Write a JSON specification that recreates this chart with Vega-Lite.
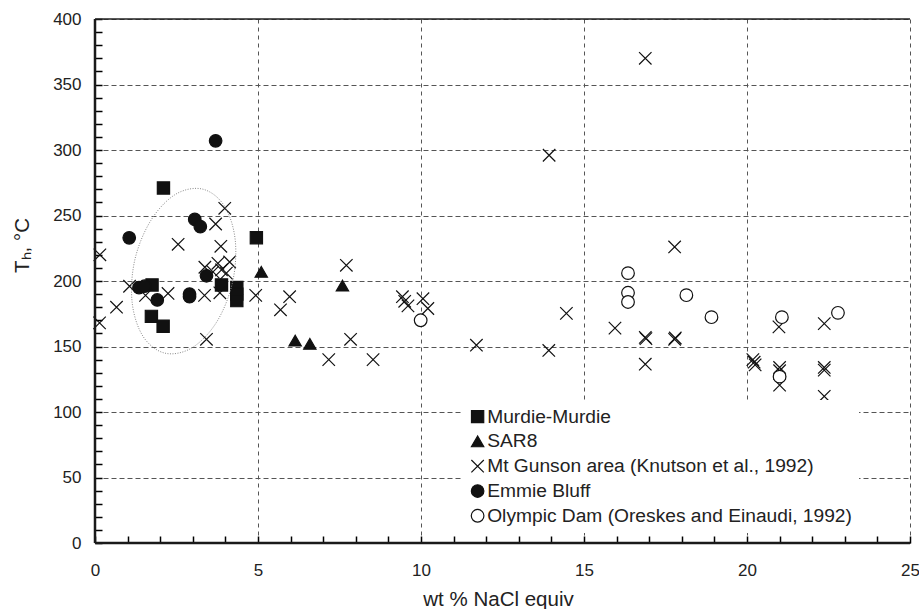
{
  "$schema": "https://vega.github.io/schema/vega-lite/v6.json",
  "autosize": "none",
  "width": 815,
  "height": 524,
  "padding": {"left": 95, "top": 19, "right": 9, "bottom": 66},
  "background": "white",
  "config": {
    "view": {"stroke": null},
    "font": "Liberation Sans",
    "axis": {"labelFont": "Liberation Sans", "titleFont": "Liberation Sans", "labelColor": "#222", "titleColor": "#222", "titleFontWeight": "normal", "ticks": true, "tickOpacity": 1},
    "legend": {
      "orient": "none",
      "legendX": 366,
      "legendY": 381,
      "padding": 7,
      "fillColor": "white",
      "strokeColor": null,
      "labelFont": "Liberation Sans",
      "labelFontSize": 19.2,
      "labelColor": "#222",
      "labelLimit": 0,
      "labelOffset": 0,
      "rowPadding": 4.8,
      "symbolStrokeWidth": 1.2,
      "direction": "vertical"
    }
  },
  "datasets": {
    "pts": [
      {"s": "Murdie-Murdie", "x": 2.1, "y": 271},
      {"s": "Murdie-Murdie", "x": 4.95, "y": 233},
      {"s": "Murdie-Murdie", "x": 1.75, "y": 197},
      {"s": "Murdie-Murdie", "x": 3.88, "y": 197},
      {"s": "Murdie-Murdie", "x": 4.35, "y": 195},
      {"s": "Murdie-Murdie", "x": 4.35, "y": 190},
      {"s": "Murdie-Murdie", "x": 4.35, "y": 185},
      {"s": "Murdie-Murdie", "x": 1.73, "y": 173},
      {"s": "Murdie-Murdie", "x": 2.09, "y": 165.5},
      {"s": "SAR8", "x": 5.1, "y": 207},
      {"s": "SAR8", "x": 7.59, "y": 196.5},
      {"s": "SAR8", "x": 6.14, "y": 154.5},
      {"s": "SAR8", "x": 6.59, "y": 152},
      {"s": "Mt Gunson area (Knutson et al., 1992)", "x": 0.15, "y": 220},
      {"s": "Mt Gunson area (Knutson et al., 1992)", "x": 0.14, "y": 168},
      {"s": "Mt Gunson area (Knutson et al., 1992)", "x": 0.66, "y": 180},
      {"s": "Mt Gunson area (Knutson et al., 1992)", "x": 1.06, "y": 196},
      {"s": "Mt Gunson area (Knutson et al., 1992)", "x": 1.55, "y": 189},
      {"s": "Mt Gunson area (Knutson et al., 1992)", "x": 2.24, "y": 190.5},
      {"s": "Mt Gunson area (Knutson et al., 1992)", "x": 2.55, "y": 228},
      {"s": "Mt Gunson area (Knutson et al., 1992)", "x": 3.36, "y": 189},
      {"s": "Mt Gunson area (Knutson et al., 1992)", "x": 3.83, "y": 191},
      {"s": "Mt Gunson area (Knutson et al., 1992)", "x": 3.42, "y": 155.5},
      {"s": "Mt Gunson area (Knutson et al., 1992)", "x": 3.98, "y": 255.5},
      {"s": "Mt Gunson area (Knutson et al., 1992)", "x": 3.7, "y": 243.5},
      {"s": "Mt Gunson area (Knutson et al., 1992)", "x": 3.86, "y": 226.5},
      {"s": "Mt Gunson area (Knutson et al., 1992)", "x": 3.37, "y": 210.5},
      {"s": "Mt Gunson area (Knutson et al., 1992)", "x": 3.62, "y": 207},
      {"s": "Mt Gunson area (Knutson et al., 1992)", "x": 3.77, "y": 213.5},
      {"s": "Mt Gunson area (Knutson et al., 1992)", "x": 3.88, "y": 208.5},
      {"s": "Mt Gunson area (Knutson et al., 1992)", "x": 4.03, "y": 206},
      {"s": "Mt Gunson area (Knutson et al., 1992)", "x": 4.13, "y": 214.5},
      {"s": "Mt Gunson area (Knutson et al., 1992)", "x": 4.93, "y": 189},
      {"s": "Mt Gunson area (Knutson et al., 1992)", "x": 5.69, "y": 178},
      {"s": "Mt Gunson area (Knutson et al., 1992)", "x": 5.97, "y": 188},
      {"s": "Mt Gunson area (Knutson et al., 1992)", "x": 7.71, "y": 212},
      {"s": "Mt Gunson area (Knutson et al., 1992)", "x": 7.84, "y": 155.5},
      {"s": "Mt Gunson area (Knutson et al., 1992)", "x": 7.17, "y": 140},
      {"s": "Mt Gunson area (Knutson et al., 1992)", "x": 8.53, "y": 140},
      {"s": "Mt Gunson area (Knutson et al., 1992)", "x": 9.43, "y": 188},
      {"s": "Mt Gunson area (Knutson et al., 1992)", "x": 9.5, "y": 184.5},
      {"s": "Mt Gunson area (Knutson et al., 1992)", "x": 9.6, "y": 181},
      {"s": "Mt Gunson area (Knutson et al., 1992)", "x": 10.06, "y": 186.5},
      {"s": "Mt Gunson area (Knutson et al., 1992)", "x": 10.21, "y": 179},
      {"s": "Mt Gunson area (Knutson et al., 1992)", "x": 11.7, "y": 151},
      {"s": "Mt Gunson area (Knutson et al., 1992)", "x": 13.93, "y": 296},
      {"s": "Mt Gunson area (Knutson et al., 1992)", "x": 13.92, "y": 147},
      {"s": "Mt Gunson area (Knutson et al., 1992)", "x": 14.46, "y": 175.3},
      {"s": "Mt Gunson area (Knutson et al., 1992)", "x": 15.95, "y": 164},
      {"s": "Mt Gunson area (Knutson et al., 1992)", "x": 16.88, "y": 370},
      {"s": "Mt Gunson area (Knutson et al., 1992)", "x": 16.88, "y": 157},
      {"s": "Mt Gunson area (Knutson et al., 1992)", "x": 16.9, "y": 156},
      {"s": "Mt Gunson area (Knutson et al., 1992)", "x": 16.88, "y": 136.5},
      {"s": "Mt Gunson area (Knutson et al., 1992)", "x": 17.78, "y": 226},
      {"s": "Mt Gunson area (Knutson et al., 1992)", "x": 17.8, "y": 156.5},
      {"s": "Mt Gunson area (Knutson et al., 1992)", "x": 17.78, "y": 155.5},
      {"s": "Mt Gunson area (Knutson et al., 1992)", "x": 20.18, "y": 140},
      {"s": "Mt Gunson area (Knutson et al., 1992)", "x": 20.22, "y": 138},
      {"s": "Mt Gunson area (Knutson et al., 1992)", "x": 20.25, "y": 136},
      {"s": "Mt Gunson area (Knutson et al., 1992)", "x": 20.98, "y": 165},
      {"s": "Mt Gunson area (Knutson et al., 1992)", "x": 21.0, "y": 134},
      {"s": "Mt Gunson area (Knutson et al., 1992)", "x": 21.0, "y": 131.5},
      {"s": "Mt Gunson area (Knutson et al., 1992)", "x": 21.0, "y": 120.5},
      {"s": "Mt Gunson area (Knutson et al., 1992)", "x": 22.37, "y": 167.5},
      {"s": "Mt Gunson area (Knutson et al., 1992)", "x": 22.37, "y": 134},
      {"s": "Mt Gunson area (Knutson et al., 1992)", "x": 22.37, "y": 132},
      {"s": "Mt Gunson area (Knutson et al., 1992)", "x": 22.37, "y": 112},
      {"s": "Emmie Bluff", "x": 3.7, "y": 307},
      {"s": "Emmie Bluff", "x": 1.05, "y": 233},
      {"s": "Emmie Bluff", "x": 3.06, "y": 247},
      {"s": "Emmie Bluff", "x": 3.23, "y": 241.5},
      {"s": "Emmie Bluff", "x": 3.42, "y": 204},
      {"s": "Emmie Bluff", "x": 1.35, "y": 195},
      {"s": "Emmie Bluff", "x": 1.52, "y": 196},
      {"s": "Emmie Bluff", "x": 1.91, "y": 185.5},
      {"s": "Emmie Bluff", "x": 2.9, "y": 190},
      {"s": "Emmie Bluff", "x": 2.9, "y": 188},
      {"s": "Olympic Dam (Oreskes and Einaudi, 1992)", "x": 9.99, "y": 170},
      {"s": "Olympic Dam (Oreskes and Einaudi, 1992)", "x": 16.35, "y": 206},
      {"s": "Olympic Dam (Oreskes and Einaudi, 1992)", "x": 16.35, "y": 191},
      {"s": "Olympic Dam (Oreskes and Einaudi, 1992)", "x": 16.35, "y": 184},
      {"s": "Olympic Dam (Oreskes and Einaudi, 1992)", "x": 18.14, "y": 189.2},
      {"s": "Olympic Dam (Oreskes and Einaudi, 1992)", "x": 18.91, "y": 172.4},
      {"s": "Olympic Dam (Oreskes and Einaudi, 1992)", "x": 21.07, "y": 172.4},
      {"s": "Olympic Dam (Oreskes and Einaudi, 1992)", "x": 21.0, "y": 127},
      {"s": "Olympic Dam (Oreskes and Einaudi, 1992)", "x": 22.79, "y": 175.7}
    ],
    "ell": [
      {"i": 0, "x": 3.29, "y": 270.2},
      {"i": 1, "x": 3.96, "y": 257.6},
      {"i": 2, "x": 4.3, "y": 231.6},
      {"i": 3, "x": 4.22, "y": 199.2},
      {"i": 4, "x": 3.74, "y": 169.0},
      {"i": 5, "x": 2.98, "y": 149.1},
      {"i": 6, "x": 2.15, "y": 144.9},
      {"i": 7, "x": 1.48, "y": 157.5},
      {"i": 8, "x": 1.14, "y": 183.5},
      {"i": 9, "x": 1.22, "y": 216.0},
      {"i": 10, "x": 1.71, "y": 246.1},
      {"i": 11, "x": 2.46, "y": 266.0}
    ]
  },
  "layer": [
    {
      "data": {"name": "pts"},
      "mark": {"type": "point", "filled": true, "opacity": 1, "strokeWidth": 1.2},
      "encoding": {
        "x": {"field": "x", "type": "quantitative", "scale": {"domain": [0, 25], "nice": false, "zero": false},
          "axis": {"orient": "bottom", "offset": -7, "values": [0,1,2,3,4,5,6,7,8,9,10,11,12,13,14,15,16,17,18,19,20,21,22,23,24,25], "tickCount": 200, "format": "d",
            "labelExpr": "datum.value % 5 === 0 ? datum.label : ''", "labelOverlap": false, "labelFlush": false,
            "grid": true, "gridDash": [4, 4], "gridColor": "#555", "gridWidth": 1,
            "gridOpacity": {"condition": {"test": "datum.value % 5 === 0", "value": 1}, "value": 0},
            "ticks": true, "tickSize": 7, "tickColor": "#000", "tickWidth": 1.5, "tickOpacity": 1,
            "domain": false,
            "labelFontSize": 17, "labelPadding": 19, "title": "wt % NaCl equiv", "titleFontSize": 20.5, "titleX": 403, "titleY": 69, "titleBaseline": "alphabetic", "titleAlign": "center"}},
        "y": {"field": "y", "type": "quantitative", "scale": {"domain": [0, 400], "nice": false, "zero": false},
          "axis": {"orient": "left", "offset": -7, "values": [0,10,20,30,40,50,60,70,80,90,100,110,120,130,140,150,160,170,180,190,200,210,220,230,240,250,260,270,280,290,300,310,320,330,340,350,360,370,380,390,400], "tickCount": 200, "format": "d",
            "labelExpr": "datum.value % 50 === 0 ? datum.label : ''", "labelOverlap": false, "labelFlush": false,
            "grid": true, "gridDash": [5, 3], "gridColor": "#555", "gridWidth": 1,
            "gridOpacity": {"condition": {"test": "datum.value % 50 === 0", "value": 1}, "value": 0},
            "ticks": true, "tickSize": 7, "tickColor": "#000", "tickWidth": 1.5, "tickOpacity": 1,
            "domain": false,
            "labelFontSize": 17, "labelPadding": 14, "title": "Tₕ, °C", "titleFontSize": 20.5, "titleAngle": -90, "titleX": -74, "titleY": 226, "titleBaseline": "alphabetic", "titleAlign": "center"}},
        "shape": {"field": "s", "type": "nominal",
          "scale": {"domain": ["Murdie-Murdie", "SAR8", "Mt Gunson area (Knutson et al., 1992)", "Emmie Bluff", "Olympic Dam (Oreskes and Einaudi, 1992)"],
            "range": ["square", "triangle-up", "M-1,-1L1,1M-1,1L1,-1", "circle", "circle"]},
          "legend": {"title": null}},
        "fill": {"field": "s", "type": "nominal",
          "scale": {"domain": ["Murdie-Murdie", "SAR8", "Mt Gunson area (Knutson et al., 1992)", "Emmie Bluff", "Olympic Dam (Oreskes and Einaudi, 1992)"],
            "range": ["#111", "#111", "transparent", "#111", "white"]},
          "legend": {"title": null}},
        "stroke": {"field": "s", "type": "nominal",
          "scale": {"domain": ["Murdie-Murdie", "SAR8", "Mt Gunson area (Knutson et al., 1992)", "Emmie Bluff", "Olympic Dam (Oreskes and Einaudi, 1992)"],
            "range": ["#111", "#111", "#111", "#111", "#111"]},
          "legend": {"title": null}},
        "size": {"field": "s", "type": "nominal",
          "scale": {"domain": ["Murdie-Murdie", "SAR8", "Mt Gunson area (Knutson et al., 1992)", "Emmie Bluff", "Olympic Dam (Oreskes and Einaudi, 1992)"],
            "range": [150, 160, 144, 90, 72]},
          "legend": {"title": null}}
      }
    },
    {
      "data": {"name": "ell"},
      "mark": {"type": "line", "interpolate": "cardinal-closed", "stroke": "#888", "strokeWidth": 1, "strokeDash": [1, 1.5]},
      "encoding": {
        "x": {"field": "x", "type": "quantitative"},
        "y": {"field": "y", "type": "quantitative"},
        "order": {"field": "i", "type": "quantitative"}
      }
    },
    {
      "data": {"values": [{}]},
      "mark": {"type": "rule", "stroke": "#222", "strokeWidth": 1.5},
      "encoding": {
        "y": {"datum": 400, "type": "quantitative"}
      }
    },
    {
      "data": {"values": [{}]},
      "mark": {"type": "rule", "stroke": "#1a1a1a", "strokeWidth": 2.5},
      "encoding": {
        "y": {"datum": 0, "type": "quantitative"}
      }
    },
    {
      "data": {"values": [{}]},
      "mark": {"type": "rule", "stroke": "#1a1a1a", "strokeWidth": 2.5},
      "encoding": {
        "x": {"datum": 0, "type": "quantitative"}
      }
    }
  ]
}
